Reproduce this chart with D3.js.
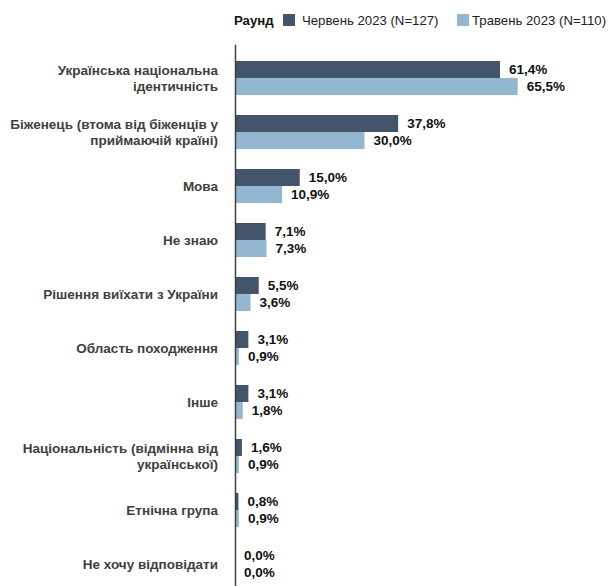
<!DOCTYPE html>
<html><head><meta charset="utf-8">
<script src="https://cdn.jsdelivr.net/npm/d3@7"></script>
<style>body{margin:0;background:#fff}svg{display:block;font-family:"Liberation Sans",Arial,sans-serif}</style>
</head><body><svg id="c" width="611" height="586"></svg>
<script>
const categories = [
  ["Українська національна","ідентичність"],
  ["Біженець (втома від біженців у","приймаючій країні)"],
  ["Мова"],
  ["Не знаю"],
  ["Рішення виїхати з України"],
  ["Область походження"],
  ["Інше"],
  ["Національність (відмінна від","української)"],
  ["Етнічна група"],
  ["Не хочу відповідати"]
];
const seriesNames = ["Червень 2023 (N=127)", "Травень 2023 (N=110)"];
const june = [61.4, 37.8, 15.0, 7.1, 5.5, 3.1, 3.1, 1.6, 0.8, 0.0];
const may = [65.5, 30.0, 10.9, 7.3, 3.6, 0.9, 1.8, 0.9, 0.9, 0.0];
const legendTitle = "Раунд";
const colors = ["#44546A", "#93B7D1"];

const svg = d3.select("#c");
const FS = 13.5;
const keys = categories.map((c,i)=>i);
const y = d3.scaleBand().domain(keys).range([51, 591]).paddingInner(0.37).paddingOuter(0.185);
const ys = d3.scaleBand().domain([0,1]).range([0, y.bandwidth()]);
const x = d3.scaleLinear().domain([0, 100]).range([235, 666.6]);
const series = [june, may];

const g = svg.append("g");
series.forEach((vals, s) => {
  g.selectAll(".b"+s).data(vals).join("rect")
    .attr("x", x(0)).attr("y", (d,i)=>y(i)+ys(s))
    .attr("width", d=>x(d)-x(0)).attr("height", ys.bandwidth())
    .attr("fill", colors[s]);
  g.selectAll(".t"+s).data(vals).join("text")
    .attr("x", d=>x(d)+9).attr("y", (d,i)=>y(i)+ys(s)+ys.bandwidth()/2)
    .attr("dy","0.35em").attr("font-size",FS).attr("font-weight","bold").attr("fill","#111")
    .text(d=>d.toFixed(1).replace(".",",")+"%");
});

// category labels
categories.forEach((lines,i)=>{
  const cy = y(i)+y.bandwidth()/2;
  const t = svg.append("text").attr("text-anchor","end").attr("font-size",FS)
    .attr("font-weight","bold").attr("fill","#404040");
  const n = lines.length;
  lines.forEach((l,j)=>{
    t.append("tspan").attr("x",218).attr("y", cy + (j-(n-1)/2)*16).attr("dy","0.35em").text(l);
  });
});

// axis
const yAxis = d3.axisLeft(d3.scaleLinear().range([44,586])).ticks(0).tickSize(0).tickFormat("");
svg.append("g").attr("transform",`translate(${x(0)},0)`).call(yAxis)
  .call(a=>a.select(".domain").attr("stroke","#404040").attr("stroke-width",1.5));

// legend
const lg = svg.append("g").attr("font-size",13.2);
lg.append("text").attr("x",234).attr("y",20).attr("dy","0.35em").attr("font-weight","bold").attr("fill","#111").text(legendTitle);
const lx = [283, 457];
seriesNames.forEach((n,s)=>{
  lg.append("rect").attr("x",lx[s]).attr("y",14).attr("width",12).attr("height",12).attr("fill",colors[s]);
  lg.append("text").attr("x",lx[s]+(s?15:19)).attr("y",20).attr("dy","0.35em").attr("fill","#222").text(n);
});
</script></body></html>
